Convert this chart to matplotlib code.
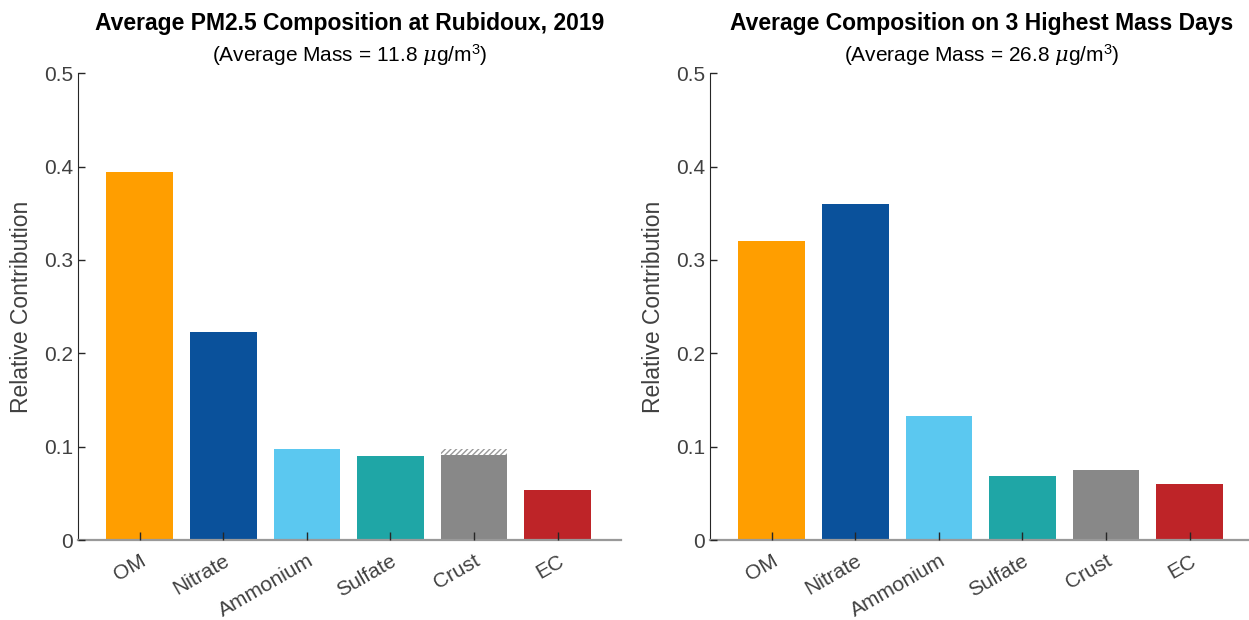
import numpy as np
import matplotlib.pyplot as plt

plt.rcParams['font.family'] = ['Liberation Sans', 'DejaVu Sans']
plt.rcParams['mathtext.fontset'] = 'custom'
plt.rcParams['mathtext.rm'] = 'Liberation Sans'
plt.rcParams['mathtext.it'] = 'DejaVu Serif:italic'

species = ['OM', 'Nitrate', 'Ammonium', 'Sulfate', 'Crust', 'EC']
colors = ['#FF9E00', '#0A519B', '#5BC8F0', '#1FA6A6', '#888888', '#BE2428']

# annual average (left) and 3 highest mass days (right)
avg_2019 = [0.394, 0.223, 0.097, 0.090, 0.091, 0.0535]
crust_hatch_top = 0.098
avg_high = [0.320, 0.360, 0.133, 0.0685, 0.075, 0.060]

titles = ['Average PM2.5 Composition at Rubidoux, 2019',
          'Average Composition on 3 Highest Mass Days']
masses = [11.8, 26.8]

fig = plt.figure(figsize=(12.49, 6.2), dpi=100)
ax1 = fig.add_axes([0.0625, 0.129, 0.4347, 0.753])
ax2 = fig.add_axes([0.5685, 0.129, 0.4347, 0.753])

x = np.arange(1, len(species) + 1)
tick_col = '#404040'

for ax, vals, title, mass in zip([ax1, ax2], [avg_2019, avg_high], titles, masses):
    ax.bar(x, vals, width=0.8, color=colors, zorder=1)
    ax.set_xlim(0.26, 6.76)
    ax.set_ylim(0, 0.5)
    ax.set_yticks([0, 0.1, 0.2, 0.3, 0.4, 0.5])
    ax.set_yticklabels(['0', '0.1', '0.2', '0.3', '0.4', '0.5'])
    ax.set_xticks(x)
    ax.set_xticklabels(species, rotation=30, ha='right', rotation_mode='anchor')
    ax.tick_params(axis='both', direction='in', labelsize=15, labelcolor=tick_col,
                   length=5, width=1.0, color='#262626')
    ax.tick_params(axis='x', pad=8, length=6)
    ax.set_axisbelow(False)
    for s in ['top', 'right']:
        ax.spines[s].set_visible(False)
    ax.spines['left'].set_color('#262626')
    ax.spines['bottom'].set_color('#999999')
    ax.spines['bottom'].set_linewidth(1.6)
    ax.set_ylabel('Relative Contribution', fontsize=16.5, color=tick_col, labelpad=8)
    ax.set_title(title, fontsize=16.5, fontweight='bold', pad=31)
    ax.text(0.5, 1.012, '(Average Mass = %.1f $\\mu$g/m$^3$)' % mass,
            transform=ax.transAxes, ha='center', va='bottom', fontsize=15)

# hatched uncertainty on crust (left panel)
ax1.bar(x[4], crust_hatch_top - avg_2019[4], bottom=avg_2019[4], width=0.8,
        color='white', edgecolor='#999999', hatch='//////', linewidth=0, zorder=1)

fig.savefig('out.png', dpi=100)
